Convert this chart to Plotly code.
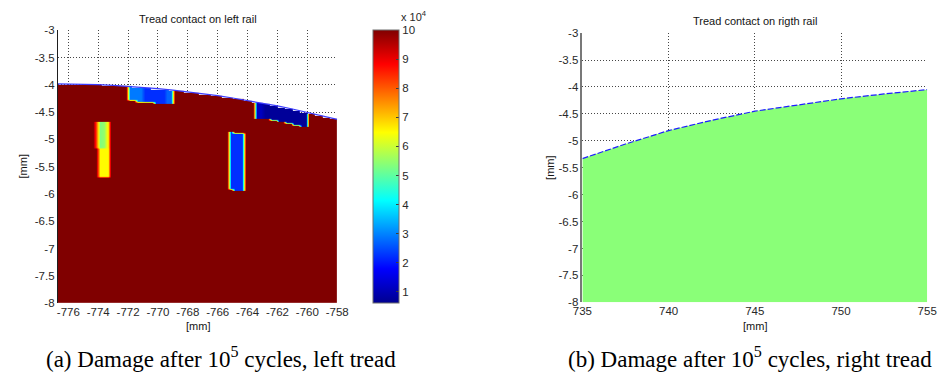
import numpy as np
import plotly.graph_objects as go

W, H = 948, 379

# ---------------- data ----------------
# left tread surface profile
surf_x = [-777, -776, -775, -774, -773, -772, -771, -770, -769, -768,
          -767, -766, -765, -764, -763, -762, -761, -760, -759, -758]
surf_y = [-3.980, -3.982, -3.987, -3.996, -4.009, -4.025, -4.045, -4.069, -4.096, -4.127,
          -4.161, -4.199, -4.241, -4.286, -4.335, -4.387, -4.443, -4.503, -4.566, -4.633]

# damaged zones: x range [mm], depth below surface [mm], damage value
patch_x0 = [-772.1, -771.1, -769.45, -763.6, -762.9, -765.3, -774.2, -774.0, -773.75, -773.5, -774.0]
patch_x1 = [-771.1, -769.45, -768.9, -762.9, -759.9, -764.35, -774.0, -773.75, -773.5, -773.25, -773.25]
patch_d0 = [0.0, 0.0, 0.0, 0.0, 0.0, 0.635, 0.68, 0.68, 0.68, 0.68, 1.17]
patch_d1 = [0.26, 0.26, 0.26, 0.28, 0.27, 1.67, 1.17, 1.17, 1.17, 1.17, 1.69]
patch_val = [2.9e4, 2.2e4, 2.7e4, 1.1e4, 0.7e4, 2.2e4, 8.3e4, 5.3e4, 5.5e4, 6.6e4, 6.5e4]
background_damage = 1.0e5

# right tread surface profile
right_x = [735, 737.5, 740, 742.5, 745, 747.5, 750, 752.5, 755]
right_y = [-5.33, -5.06, -4.81, -4.62, -4.45, -4.33, -4.22, -4.13, -4.05]

left_xticks = [-776, -774, -772, -770, -768, -766, -764, -762, -760, -758]
right_xticks = [735, 740, 745, 750, 755]
yticks = [-3, -3.5, -4, -4.5, -5, -5.5, -6, -6.5, -7, -7.5, -8]
cbar_ticks = [1, 2, 3, 4, 5, 6, 7, 8, 9, 10]
cbar_scale = 1e4
damage_min, damage_max = 0.6e4, 1.0e5

left_xrange = [-776.7, -758]
right_xrange = [735, 755]
yrange = [-8, -3]

# ---------------- grid for the left tread map ----------------
cell_w, cell_h = 0.25, 0.03
gx = np.arange(-776.625, -757.9, cell_w)
gy = np.arange(-7.985, -3.9, cell_h)
surf_at = np.interp(gx, surf_x, surf_y)
z = []
for yc in gy:
    row = []
    for i, xc in enumerate(gx):
        d = surf_at[i] - yc
        if d < -0.005:
            row.append(None)
            continue
        v = background_damage
        for x0, x1, d0, d1, val in zip(patch_x0, patch_x1, patch_d0, patch_d1, patch_val):
            if x0 <= xc <= x1 and d0 - 0.01 <= d <= d1:
                v = val
        row.append(v)
    z.append(row)

jet = [[0.0, 'rgb(0,0,143)'], [0.125, 'rgb(0,0,255)'], [0.375, 'rgb(0,255,255)'],
       [0.625, 'rgb(255,255,0)'], [0.875, 'rgb(255,0,0)'], [1.0, 'rgb(128,0,0)']]

# ---------------- layout positions (px) ----------------
def px_x(p):
    return p / W

def px_y(p):
    return (H - p) / H

L_x0, L_x1, L_y0, L_y1 = 49, 335, 25, 307
R_x0, R_x1, R_y0, R_y1 = 586, 939, 28, 306
CB_x0, CB_w = 372, 26

fig = go.Figure()

fig.add_trace(go.Heatmap(
    x=gx.tolist(), y=gy.tolist(), z=z, zsmooth='best',
    colorscale=jet, zmin=damage_min, zmax=damage_max,
    xaxis='x', yaxis='y', hoverinfo='skip',
    colorbar=dict(
        x=px_x(CB_x0), xanchor='left', xpad=0, ypad=0,
        thickness=CB_w, thicknessmode='pixels',
        len=(L_y1 - L_y0) / H, lenmode='fraction',
        y=px_y(L_y1), yanchor='bottom',
        outlinewidth=1, outlinecolor='rgb(110,110,110)',
        tickvals=[t * cbar_scale for t in cbar_ticks],
        ticktext=[str(t) for t in cbar_ticks],
        ticks='inside', ticklen=3, tickcolor='rgb(60,60,60)',
        tickfont=dict(family='Liberation Sans, Arial', size=11.5, color='rgb(40,40,40)'),
    ),
))

fig.add_trace(go.Scatter(
    x=surf_x, y=surf_y, mode='lines', xaxis='x', yaxis='y',
    line=dict(color='rgb(60,60,255)', width=1.2), hoverinfo='skip', showlegend=False,
))

# right tread: fill between floor and the profile
fig.add_trace(go.Scatter(
    x=right_x, y=[yrange[0]] * len(right_x), mode='lines', xaxis='x2', yaxis='y2',
    line=dict(width=0, color='rgba(0,0,0,0)'), hoverinfo='skip', showlegend=False,
))
fig.add_trace(go.Scatter(
    x=right_x, y=right_y, mode='lines', xaxis='x2', yaxis='y2', fill='tonexty',
    fillcolor='rgb(138,255,120)',
    line=dict(color='rgb(30,30,255)', width=1.2, dash='6px,2px'),
    hoverinfo='skip', showlegend=False,
))

tickfont = dict(family='Liberation Sans, Arial', size=11.5, color='rgb(40,40,40)')
axis_common = dict(showgrid=True, gridcolor='rgb(70,70,70)', griddash='1px,2px', gridwidth=1,
                   zeroline=False, ticks='', tickfont=tickfont)

fig.update_layout(
    width=W, height=H,
    margin=dict(l=0, r=0, t=0, b=0),
    paper_bgcolor='white', plot_bgcolor='white',
    showlegend=False,
    xaxis=dict(domain=[px_x(L_x0), px_x(L_x1)], range=left_xrange, tickvals=left_xticks,
               ticktext=[f'{v:g}' for v in left_xticks],
               anchor='y', showline=False, **axis_common),
    yaxis=dict(domain=[px_y(L_y1), px_y(L_y0)], range=yrange, tickvals=yticks,
               ticktext=[f'{v:g}' for v in yticks],
               anchor='x', showline=True, linecolor='rgb(30,30,30)', linewidth=1, **axis_common),
    xaxis2=dict(domain=[px_x(R_x0), px_x(R_x1)], range=right_xrange, tickvals=right_xticks,
                ticktext=[f'{v:g}' for v in right_xticks],
                anchor='y2', showline=False, **axis_common),
    yaxis2=dict(domain=[px_y(R_y1), px_y(R_y0)], range=yrange, tickvals=yticks,
                ticktext=[f'{v:g}' for v in yticks],
                anchor='x2', showline=True, linecolor='rgb(120,120,120)', linewidth=1.5, **axis_common),
)

small = dict(family='Liberation Sans, Arial', size=11, color='rgb(20,20,20)')
serif = dict(family='Liberation Serif, Times New Roman, serif', size=23, color='black')
ann = [
    dict(text='Tread contact on left rail', x=px_x((L_x0 + L_x1) / 2), y=px_y(13), font=small),
    dict(text='Tread contact on rigth rail', x=px_x((R_x0 + R_x1) / 2), y=px_y(15), font=small),
    dict(text='[mm]', x=px_x((L_x0 + L_x1) / 2), y=px_y(330), font=small),
    dict(text='[mm]', x=px_x((R_x0 + R_x1) / 2), y=px_y(330), font=small),
    dict(text='[mm]', x=px_x(13), y=px_y(166), font=small, textangle=-90),
    dict(text='[mm]', x=px_x(553), y=px_y(167), font=small, textangle=-90),
    dict(text='x 10<sup>4</sup>', x=px_x(398), y=px_y(20), yanchor='bottom',
         font=dict(family='Liberation Sans, Arial', size=11, color='rgb(40,40,40)'), xanchor='left'),
    dict(text='(a) Damage after 10<sup>5</sup> cycles, left tread', x=px_x(216), y=px_y(363), font=serif),
    dict(text='(b) Damage after 10<sup>5</sup> cycles, right tread', x=px_x(758), y=px_y(363), font=serif),
]
for a in ann:
    a.setdefault('xanchor', 'center')
    a.setdefault('yanchor', 'middle')
    fig.add_annotation(xref='paper', yref='paper', showarrow=False, **a)

fig.write_html('out.html', config={'displayModeBar': False},
               post_script="document.body.style.margin='0';document.body.style.overflow='hidden';")
